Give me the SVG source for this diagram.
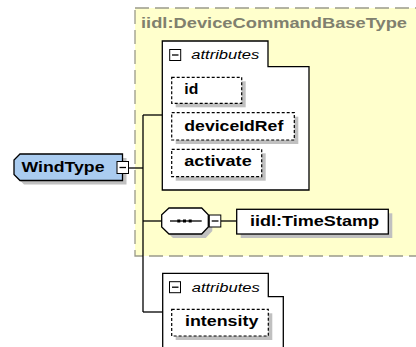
<svg xmlns="http://www.w3.org/2000/svg" width="416" height="347" viewBox="0 0 416 347">
<style>
.bg{fill:#ffffff}
.base{fill:#ffffcc;stroke:#9a9a8a;stroke-width:1.3;stroke-dasharray:14,6}
.title{font-family:"Liberation Sans",Arial,sans-serif;font-weight:bold;font-size:15px;fill:#80806e}
.shadow{fill:#c0c0c0}
.box{fill:#ffffff;stroke:#000;stroke-width:1.3}
.opt{fill:#ffffff;stroke:#000;stroke-width:1.2;stroke-dasharray:3,2}
.lbl{font-family:"Liberation Sans",Arial,sans-serif;font-weight:bold;font-size:15px;fill:#000}
.attr{font-family:"Liberation Sans",Arial,sans-serif;font-style:italic;font-size:12px;fill:#000}
.mb{fill:#ffffff;stroke:#000;stroke-width:1}
.line{fill:none;stroke:#000;stroke-width:1.3}
.node{fill:#aaccf0;stroke:#000;stroke-width:1.3}
</style>
<rect class="bg" x="0" y="0" width="416" height="347"/>
<g id="base-type">
<rect class="base" x="135" y="8" width="290" height="248"/>
<text class="title" x="141" y="28" textLength="266" lengthAdjust="spacingAndGlyphs">iidl:DeviceCommandBaseType</text>
</g>
<g id="connectors">
<path class="line" d="M129,168 H143"/>
<path class="line" d="M143,115 V312"/>
<path class="line" d="M143,115 H162"/>
<path class="line" d="M143,221 H162"/>
<path class="line" d="M221,221 H237"/>
<path class="line" d="M143,312 H163"/>
</g>
<g id="WindType">
<path class="shadow" d="M24,158 H126.5 V184.5 H24 L18,178.5 V164 Z"/>
<path class="node" d="M20,154 H122.5 V180.5 H20 L14,174.5 V160 Z"/>
<text class="lbl" x="21.5" y="172" textLength="83" lengthAdjust="spacingAndGlyphs">WindType</text>
<rect class="mb" x="117" y="161.5" width="11.5" height="12"/>
<path class="line" d="M119.5,167.5 H126" stroke-width="1.2"/>
</g>
<g id="attributes-base">
<path class="box" d="M162.3,41 H268 V66.7 H309 V190 H162.3 Z"/>
<rect class="mb" x="169.7" y="49.5" width="11" height="11"/>
<path class="line" d="M172,55 H178.5" stroke-width="1.2"/>
<text class="attr" x="191.3" y="58.7" textLength="68" lengthAdjust="spacingAndGlyphs">attributes</text>
</g>
<g id="attr-id">
<rect class="shadow" x="175.7" y="81.3" width="70" height="26"/>
<rect class="opt" x="171.7" y="77.3" width="70" height="26"/>
<text class="lbl" x="184.3" y="94" textLength="14" lengthAdjust="spacingAndGlyphs">id</text>
</g>
<g id="attr-deviceIdRef">
<rect class="shadow" x="175.7" y="116.7" width="122.6" height="27.3"/>
<rect class="opt" x="171.7" y="112.7" width="122.6" height="27.3"/>
<text class="lbl" x="184.3" y="130.7" textLength="99" lengthAdjust="spacingAndGlyphs">deviceIdRef</text>
</g>
<g id="attr-activate">
<rect class="shadow" x="175.7" y="153.3" width="90" height="27.4"/>
<rect class="opt" x="171.7" y="149.3" width="90" height="27.4"/>
<text class="lbl" x="184.3" y="166" textLength="67.4" lengthAdjust="spacingAndGlyphs">activate</text>
</g>
<g id="sequence">
<path class="shadow" d="M173,212 H205.7 L212.3,218.7 V231 L205.7,238 H173 L165.7,231 V218.7 Z"/>
<path class="box" d="M169,208 H201.7 L208.3,214.7 V227 L201.7,234 H169 L161.7,227 V214.7 Z"/>
<path class="line" d="M170,221 H201.7" stroke-width="1.2"/>
<rect x="177.3" y="219.5" width="3" height="3" fill="#000"/>
<rect x="183" y="219.5" width="3" height="3" fill="#000"/>
<rect x="188.7" y="219.5" width="3" height="3" fill="#000"/>
<rect class="mb" x="209.3" y="215" width="11.5" height="12"/>
<path class="line" d="M211.7,221 H218.5" stroke-width="1.2"/>
</g>
<g id="TimeStamp">
<rect class="shadow" x="240.7" y="213.3" width="151.6" height="24.7"/>
<rect class="box" x="236.7" y="209.3" width="151.6" height="24.7"/>
<text class="lbl" x="250" y="225.7" textLength="129" lengthAdjust="spacingAndGlyphs">iidl:TimeStamp</text>
</g>
<g id="attributes-wind">
<path class="box" d="M162.7,273.3 H268.3 V296.7 H283.3 V352 H162.7 Z"/>
<rect class="mb" x="169.5" y="281.7" width="11" height="11"/>
<path class="line" d="M172,287.2 H178.5" stroke-width="1.2"/>
<text class="attr" x="191.7" y="291.7" textLength="68" lengthAdjust="spacingAndGlyphs">attributes</text>
</g>
<g id="attr-intensity">
<rect class="shadow" x="175.7" y="313.3" width="96.6" height="26.7"/>
<rect class="opt" x="171.7" y="309.3" width="96.6" height="26.7"/>
<text class="lbl" x="185" y="325.7" textLength="73.3" lengthAdjust="spacingAndGlyphs">intensity</text>
</g>
</svg>
